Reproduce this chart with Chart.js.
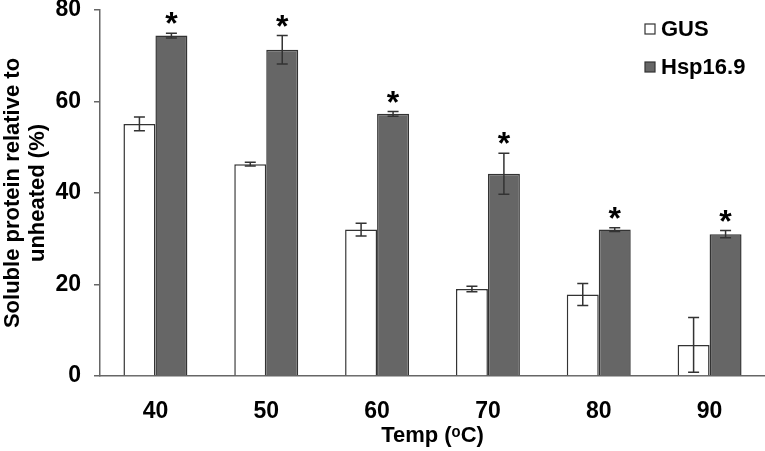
<!DOCTYPE html>
<html>
<head>
<meta charset="utf-8">
<script src="https://cdn.jsdelivr.net/npm/chart.js@4/dist/chart.umd.min.js"></script>
<style>
  html, body { margin: 0; padding: 0; background: #fff; }
  #wrap { width: 765px; height: 451px; }
</style>
</head>
<body>
<div id="wrap"><canvas id="c"></canvas></div>
<script>
/* ── data ── */
const temps   = ['40', '50', '60', '70', '80', '90'];
const gusVal  = [55.1, 46.3, 32.0, 19.0, 17.8, 6.8];
const gusErr  = [1.5, 0.4, 1.4, 0.6, 2.4, 6.0];
const hspVal  = [74.4, 71.3, 57.3, 44.2, 32.0, 31.0];
const hspErr  = [0.5, 3.1, 0.5, 4.5, 0.4, 0.8];
const starred = [true, true, true, true, true, true];

const FONT = '"Liberation Sans", Arial, sans-serif';
const LINE = '#333';

/* ── error bars + asterisks ── */
const errorBars = {
  id: 'errorBars',
  afterDatasetsDraw(chart) {
    const ctx = chart.ctx;
    const y = chart.scales.y;
    const errs = [gusErr, hspErr];
    ctx.save();
    ctx.strokeStyle = LINE;
    ctx.lineWidth = 1.5;
    chart.data.datasets.forEach((ds, di) => {
      chart.getDatasetMeta(di).data.forEach((bar, i) => {
        const v = ds.data[i], e = errs[di][i];
        const top = y.getPixelForValue(v + e);
        const bot = y.getPixelForValue(v - e);
        ctx.beginPath();
        ctx.moveTo(bar.x, top); ctx.lineTo(bar.x, bot);
        ctx.moveTo(bar.x - 5.5, top); ctx.lineTo(bar.x + 5.5, top);
        ctx.moveTo(bar.x - 5.5, bot); ctx.lineTo(bar.x + 5.5, bot);
        ctx.stroke();
        if (di === 1 && starred[i]) {
          ctx.fillStyle = '#000';
          ctx.font = 'bold 32px ' + FONT;
          ctx.textAlign = 'center';
          ctx.textBaseline = 'alphabetic';
          const m = ctx.measureText('*');
          const cy = top - 15;
          ctx.fillText('*', bar.x, cy + (m.actualBoundingBoxAscent - m.actualBoundingBoxDescent) / 2);
        }
      });
    });
    ctx.restore();
  }
};

/* ── legend (top right, stacked) ── */
const boxLegend = {
  id: 'boxLegend',
  afterDraw(chart) {
    const ctx = chart.ctx;
    ctx.save();
    ctx.font = 'bold 22px ' + FONT;
    ctx.textBaseline = 'middle';
    ctx.textAlign = 'left';
    chart.data.datasets.forEach((ds, i) => {
      const cy = 29 + i * 38;
      ctx.fillStyle = ds.backgroundColor;
      ctx.strokeStyle = LINE;
      ctx.lineWidth = 1.2;
      ctx.fillRect(645, cy - 5, 10, 10);
      ctx.strokeRect(645, cy - 5, 10, 10);
      ctx.fillStyle = '#000';
      ctx.fillText(ds.label, 661, cy + 1);
    });
    ctx.restore();
  }
};

new Chart(document.getElementById('c'), {
  type: 'bar',
  data: {
    labels: temps,
    datasets: [
      {
        label: 'GUS',
        data: gusVal,
        backgroundColor: '#ffffff',
        borderColor: LINE,
        borderWidth: 1.5,
      },
      {
        label: 'Hsp16.9',
        data: hspVal,
        backgroundColor: '#666666',
        borderColor: LINE,
        borderWidth: 1.5,
      },
    ],
  },
  options: {
    responsive: true,
    maintainAspectRatio: false,
    animation: false,
    layout: { padding: { top: 10, right: 0, left: 0, bottom: 0 } },
    datasets: { bar: { categoryPercentage: 0.577, barPercentage: 1.0 } },
    plugins: { legend: { display: false }, tooltip: { enabled: false } },
    scales: {
      x: {
        grid: { display: false, drawTicks: false },
        border: { color: '#666', width: 1.5 },
        ticks: { color: '#000', font: { family: FONT, size: 23, weight: 'bold' }, padding: 22 },
        title: {
          display: true,
          text: 'Temp (ᵒC)',
          color: '#000',
          font: { family: FONT, size: 22, weight: 'bold' },
          padding: { top: 4, bottom: 2 },
        },
        afterFit(s) { s.height = 75; },
      },
      y: {
        min: 0, max: 80,
        grid: { drawOnChartArea: false, drawTicks: true, tickLength: 6, color: '#666', lineWidth: 1.5 },
        border: { color: '#666', width: 1.5 },
        ticks: { stepSize: 20, color: '#000', font: { family: FONT, size: 23, weight: 'bold' }, padding: 13 },
        title: {
          display: true,
          text: ['Soluble protein relative to', 'unheated (%)'],
          color: '#000',
          font: { family: FONT, size: 22, weight: 'bold', lineHeight: 1.14 },
          padding: { top: 0, bottom: 0 },
        },
        afterFit(s) { s.width = 100; s.paddingTop = 0; s.paddingBottom = 0; },
      },
    },
  },
  plugins: [errorBars, boxLegend],
});
</script>
</body>
</html>
